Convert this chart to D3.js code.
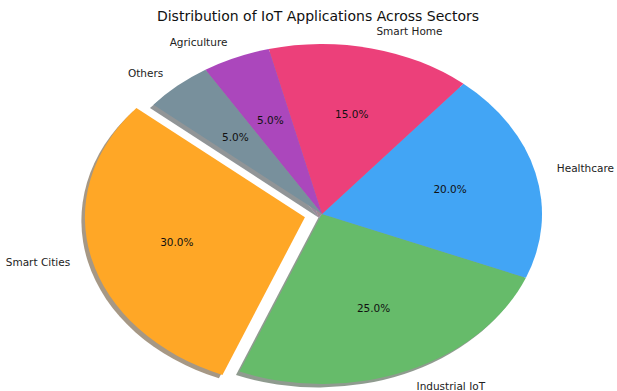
<!DOCTYPE html>
<html><head><meta charset="utf-8">
<script src="https://cdn.jsdelivr.net/npm/d3@7"></script>
<style>body{margin:0;background:#fff}svg{display:block}text{font-family:"DejaVu Sans",sans-serif}</style>
</head><body>
<svg id="c" width="617" height="391"></svg>
<script>
const categories = ["Smart Cities","Industrial IoT","Healthcare","Smart Home","Agriculture","Others"];
const values = [30,25,20,15,5,5];
const colors = ["#FFA726","#66BB6A","#42A5F5","#EC407A","#AB47BC","#78909C"];
const explode = [0.08,0,0,0,0,0];
const title = "Distribution of IoT Applications Across Sectors";

const W=617,H=391, cx=322, cy=214, rx=220, ry=170;
const svg=d3.select("#c");
const startDeg=140;
const a0 = Math.PI/2 - startDeg*Math.PI/180;
const pie=d3.pie().sort(null).value(d=>d).startAngle(a0).endAngle(a0-2*Math.PI);
const arcs=pie(values);
const arc=d3.arc().innerRadius(0).outerRadius(1);
const sx=d3.scaleLinear().domain([-1,1]).range([cx-rx,cx+rx]);
const sy=d3.scaleLinear().domain([-1,1]).range([cy-ry,cy+ry]);

function mid(d){return (d.startAngle+d.endAngle)/2;}
function off(d,i){const m=mid(d);return [explode[i]*Math.sin(m), -explode[i]*Math.cos(m)];}

const g=svg.append("g").attr("transform",`translate(${cx},${cy}) scale(${rx},${ry})`);
// shadows
g.selectAll("path.sh").data(arcs).join("path").attr("class","sh")
  .attr("transform",(d,i)=>{const o=off(d,i);return `translate(${o[0]-0.016},${o[1]+0.02})`;})
  .attr("d",arc)
  .attr("fill",(d,i)=>{const c=d3.rgb(colors[i]);return d3.rgb(c.r*0.3,c.g*0.3,c.b*0.3);})
  .attr("fill-opacity",0.5);
g.selectAll("path.w").data(arcs).join("path").attr("class","w")
  .attr("transform",(d,i)=>{const o=off(d,i);return `translate(${o[0]},${o[1]})`;})
  .attr("d",arc).attr("fill",(d,i)=>colors[i]);

// labels
const tot=d3.sum(values);
arcs.forEach((d,i)=>{
  const m=mid(d), o=off(d,i);
  const ux=o[0]+1.1*Math.sin(m), uy=o[1]-1.1*Math.cos(m);
  svg.append("text").attr("x",sx(ux)).attr("y",sy(uy)).attr("dy","0.35em")
    .attr("text-anchor",Math.sin(m)>0?"start":"end")
    .attr("font-size",10.5).attr("fill","#222").text(categories[i]);
  const px=o[0]+0.6*Math.sin(m), py=o[1]-0.6*Math.cos(m);
  svg.append("text").attr("x",sx(px)).attr("y",sy(py)).attr("dy","0.35em")
    .attr("text-anchor","middle").attr("font-size",10.5).attr("fill","#111")
    .text((values[i]/tot*100).toFixed(1)+"%");
});
svg.append("text").attr("x",318).attr("y",16).attr("dy","0.35em").attr("text-anchor","middle")
  .attr("font-size",14).attr("fill","#111").text(title);
</script>
</body></html>
